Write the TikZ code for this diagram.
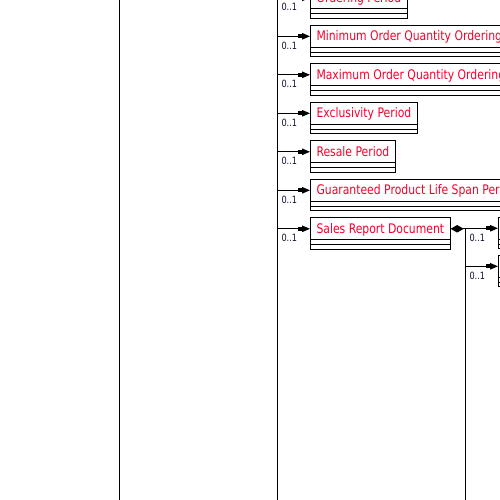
\documentclass[tikz,border=0pt]{standalone}
\usepackage{fontspec}
\usetikzlibrary{arrows.meta}
\newfontfamily\umlfont[FakeStretch=0.82]{DejaVu Sans}
\definecolor{clsred}{RGB}{245,0,45}
\definecolor{multblue}{RGB}{15,15,50}

\begin{document}
\begin{tikzpicture}
        [x=1pt, y=-1pt, line width=1pt,
        cls/.style={draw, anchor=north west, minimum height=22pt, inner xsep=6.5pt, inner ysep=0pt,
            outer sep=0pt, text height=10pt, text depth=1.5pt,
            text=clsred, font=\umlfont\fontsize{13.2}{15}\selectfont},
        assoc/.style={-{Rectangle[length=4pt,width=4pt]Triangle[length=8pt,width=6.5pt]}},
        comp/.style={{Diamond[length=13pt,width=7.5pt]}-},
        mult/.style={pos=0, anchor=north west, inner sep=0pt, xshift=4pt, yshift=-5pt,
            text=multblue, font=\umlfont\fontsize{10}{11}\selectfont}]

        \useasboundingbox (0,0) rectangle (500,500);
        \clip (0,0) rectangle (500,500);

        % classes hanging off the main trunk
        \node[cls] (ordp) at (310,-13.2) {Ordering Period};
        \node[cls] (minq) at (310,25.3) {Minimum Order Quantity Ordering Period};
        \node[cls] (maxq) at (310,63.8) {Maximum Order Quantity Ordering Period};
        \node[cls] (excl) at (310,102.3) {Exclusivity Period};
        \node[cls] (resale) at (310,140.8) {Resale Period};
        \node[cls] (life) at (310,179.3) {Guaranteed Product Life Span Period};
        \node[cls] (report) at (310,217.8) {Sales Report Document};

        % children of the report, cut by the right edge
        \node[cls, minimum width=60pt] (subA) at (498,217.3) {};
        \node[cls, minimum width=60pt] (subB) at (498,255.3) {};

        % empty attribute and operation compartments
        \foreach \c in {ordp,minq,maxq,excl,resale,life,report,subA,subB} {
            \draw (\c.south west) rectangle ([yshift=-9.5pt]\c.south east);
            \draw ([yshift=-5pt]\c.south west) -- ([yshift=-5pt]\c.south east);
        }

        % trunks
        \coordinate (outerTop) at (119,-20);
        \coordinate (outerBot) at (119,520);
        \coordinate (trunkTop) at (277,-20);
        \coordinate (trunkBot) at (277,520);
        \coordinate (subTrunk) at (465,520);

        \draw (outerTop) -- (outerBot);
        \draw (trunkTop) -- (trunkBot);

        \foreach \c in {ordp,minq,maxq,excl,resale,life,report}
            \draw[assoc] (\c.west -| trunkTop) -- (\c.west) node[mult] {0..1};

        % composition of the sales report
        \draw[comp] (report.east) -- (report.east -| subTrunk);
        \draw (report.east -| subTrunk) -- (subTrunk);

        \foreach \c in {subA,subB}
            \draw[assoc] (\c.west -| subTrunk) -- (\c.west) node[mult] {0..1};
    \end{tikzpicture}
\end{document}
